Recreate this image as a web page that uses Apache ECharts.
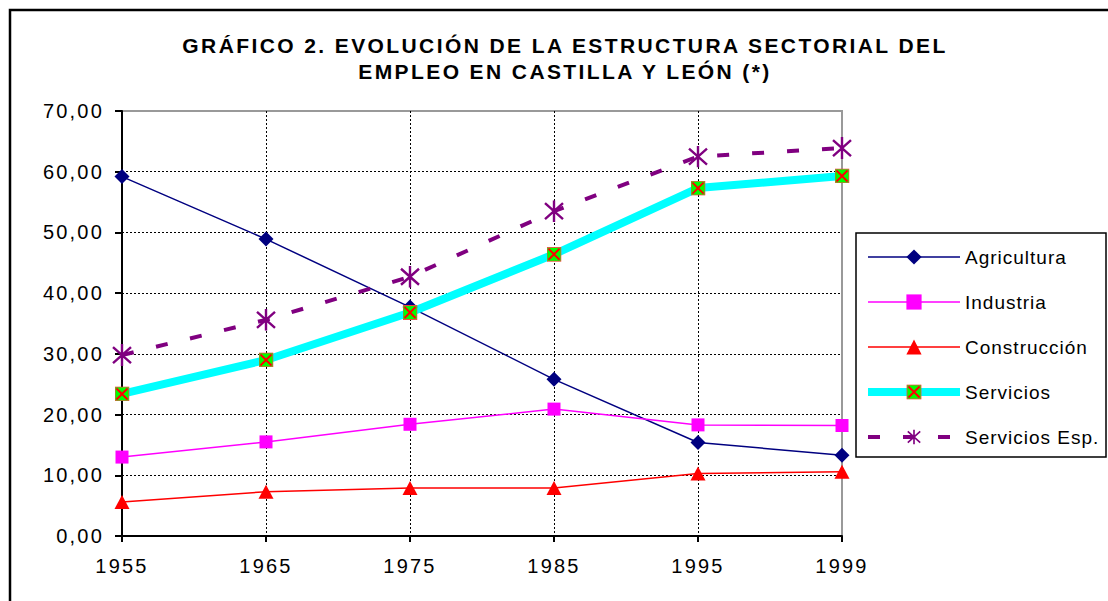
<!DOCTYPE html>
<html>
<head>
<meta charset="utf-8">
<script src="https://cdn.jsdelivr.net/npm/echarts@6/dist/echarts.min.js"></script>
<style>
html, body { margin: 0; padding: 0; background: #fff; }
#chart { width: 1108px; height: 601px; }
/* el texto original va espaciado */
#chart text[style*="21px"] { letter-spacing: 2.4px; }
#chart text[style*="20px"] { letter-spacing: 2.2px; }
#chart text[style*="19px"] { letter-spacing: 1px; }
</style>
</head>
<body>
<div id="chart"></div>
<script>
var years = ['1955', '1965', '1975', '1985', '1995', '1999'];
var agricultura = [59.2, 48.9, 37.7, 25.8, 15.4, 13.3];
var industria = [13.0, 15.5, 18.4, 20.9, 18.3, 18.2];
var construccion = [5.6, 7.3, 7.9, 7.9, 10.3, 10.6];
var servicios = [23.4, 29.0, 36.8, 46.4, 57.3, 59.3];
var serviciosEsp = [29.8, 35.6, 42.7, 53.5, 62.5, 63.9];
var yTicks = { min: 0, max: 70, interval: 10 };

var FONT = '"Liberation Sans", Arial, sans-serif';

function svgSymbol(svg) {
  return 'image://data:image/svg+xml;charset=utf-8,' + encodeURIComponent(svg);
}
// cuadrado verde con aspa roja
var symServicios = svgSymbol(
  '<svg xmlns="http://www.w3.org/2000/svg" width="15" height="15" viewBox="0 0 15 15">' +
  '<rect x="0.5" y="0.5" width="14" height="14" fill="#00FF00" stroke="#ff4040" stroke-width="1"/>' +
  '<path d="M2 2L13 13M13 2L2 13" stroke="#FF0000" stroke-width="2"/></svg>');
// asterisco morado
var symEsp = svgSymbol(
  '<svg xmlns="http://www.w3.org/2000/svg" width="22" height="22" viewBox="0 0 22 22">' +
  '<path d="M2 3L20 19M20 3L2 19M11 0L11 22" stroke="#800080" stroke-width="2.4"/></svg>');

var chart = echarts.init(document.getElementById('chart'), null, { renderer: 'svg' });

var option = {
  animation: false,
  backgroundColor: '#fff',
  graphic: [{
    type: 'rect', z: 0,
    shape: { x: 10, y: 10, width: 1120, height: 620 },
    style: { fill: 'none', stroke: '#000', lineWidth: 2.5 }
  }, {
    type: 'rect', z: 0,
    shape: { x: 856, y: 233, width: 250, height: 224 },
    style: { fill: '#fff', stroke: '#000', lineWidth: 1.5 }
  }, {
    type: 'text', z: 5,
    x: 565, y: 32,
    style: {
      text: 'GRÁFICO 2. EVOLUCIÓN DE LA ESTRUCTURA SECTORIAL DEL\nEMPLEO EN CASTILLA Y LEÓN (*)',
      fontSize: 21, fontWeight: 'bold', fontFamily: FONT,
      textAlign: 'center', textVerticalAlign: 'top', lineHeight: 26, fill: '#000'
    }
  }],
  legend: {
    orient: 'vertical',
    left: 864, top: 247,
    padding: 0,
    itemWidth: 92, itemHeight: 19, itemGap: 25,
    selectedMode: false,
    lineStyle: { width: 'inherit' },
    textStyle: { fontSize: 19, fontFamily: FONT, color: '#000', lineHeight: 20 },
    data: ['Agricultura', 'Industria', 'Construcción', 'Servicios', 'Servicios Esp.']
  },
  grid: {
    left: 122, right: 266, top: 111, bottom: 65,
    show: true, borderColor: '#999', borderWidth: 2, backgroundColor: 'transparent'
  },
  xAxis: {
    type: 'category',
    data: years,
    boundaryGap: false,
    axisLine: { lineStyle: { color: '#000', width: 2 } },
    axisTick: { show: true, length: 6, lineStyle: { color: '#000', width: 2 } },
    axisLabel: { fontSize: 20, fontFamily: FONT, color: '#000', margin: 20 },
    splitLine: { show: true, showMaxLine: false, lineStyle: { color: '#000', width: 1, type: [2, 2] } }
  },
  yAxis: {
    type: 'value',
    min: yTicks.min, max: yTicks.max, interval: yTicks.interval,
    axisLine: { show: true, lineStyle: { color: '#000', width: 2 } },
    axisTick: { show: true, length: 7, lineStyle: { color: '#000', width: 2 } },
    axisLabel: {
      fontSize: 20, fontFamily: FONT, color: '#000', margin: 18,
      formatter: function (v) { return v.toFixed(2).replace('.', ','); }
    },
    splitLine: { show: true, showMaxLine: false, lineStyle: { color: '#000', width: 1, type: [2, 2] } }
  },
  series: [{
    name: 'Agricultura', type: 'line', data: agricultura,
    symbol: 'diamond', symbolSize: 15, showAllSymbol: true,
    itemStyle: { color: '#000080' },
    lineStyle: { color: '#000080', width: 1.5 }
  }, {
    name: 'Industria', type: 'line', data: industria,
    symbol: 'rect', symbolSize: 13, showAllSymbol: true,
    itemStyle: { color: '#FF00FF' },
    lineStyle: { color: '#FF00FF', width: 1.5 }
  }, {
    name: 'Construcción', type: 'line', data: construccion,
    symbol: 'triangle', symbolSize: [15, 14], showAllSymbol: true,
    itemStyle: { color: '#FF0000' },
    lineStyle: { color: '#FF0000', width: 1.5 }
  }, {
    name: 'Servicios', type: 'line', data: servicios,
    symbol: symServicios, symbolSize: 15, showAllSymbol: true,
    itemStyle: { color: '#00FFFF' },
    lineStyle: { color: '#00FFFF', width: 8 }
  }, {
    name: 'Servicios Esp.', type: 'line', data: serviciosEsp,
    symbol: symEsp, symbolSize: 22, showAllSymbol: true,
    itemStyle: { color: '#800080' },
    lineStyle: { color: '#800080', width: 4, type: [12, 23] }
  }]
};

chart.setOption(option);
</script>
</body>
</html>
